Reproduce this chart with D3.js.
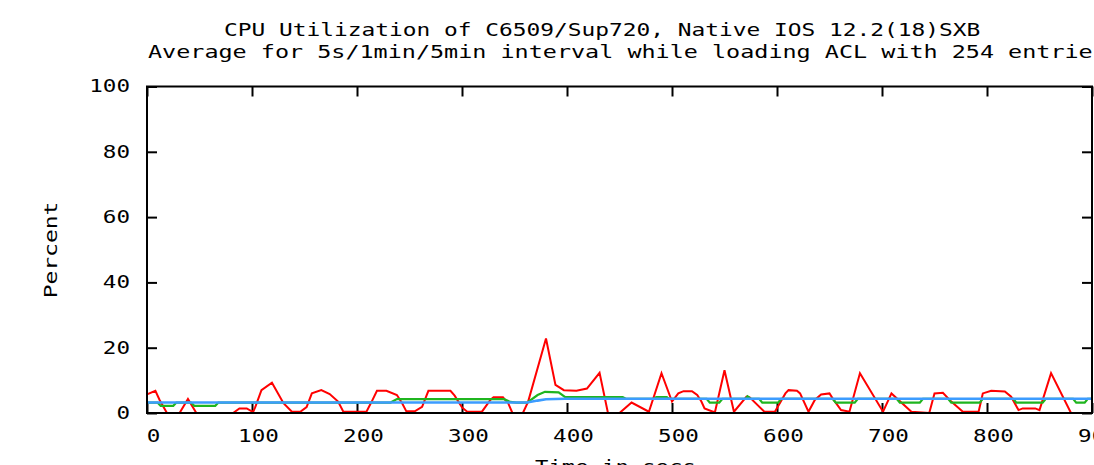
<!DOCTYPE html>
<html><head><meta charset="utf-8">
<script src="https://cdn.jsdelivr.net/npm/d3@7"></script>
<style>html,body{margin:0;padding:0;background:#fff;overflow:hidden}</style>
</head><body>
<svg id="chart" width="1094" height="465"></svg>
<script>
// ---- data ----
const titleLine1 = "CPU Utilization of C6509/Sup720, Native IOS 12.2(18)SXB";
const titleLine2 = "Average for 5s/1min/5min interval while loading ACL with 254 entries";
const xLabel = "Time in secs";
const yLabel = "Percent";
const xTicks = [0, 100, 200, 300, 400, 500, 600, 700, 800, 900];
const yTicks = [0, 20, 40, 60, 80, 100];
const seriesNames = ["5s", "1min", "5min"];

// 5 second average [time, percent]
const cpu5s = [[0,5.7],[8,6.8],[12,4],[19,0],[31,0],[39,4.3],[47,0],[82,0],[88,1.4],[95,1.4],[101,0.3],[103,1.7],[109,7],[119,9.3],[130,3],[138,0.4],[146,0.4],[152,1.8],[157,6],[166,7],[174,5.8],[182,3.5],[187,0.4],[209,0.4],[214,3.5],[219,6.8],[228,6.8],[238,5.5],[243,3],[247,0.5],[255,0.5],[262,1.9],[268,6.8],[289,6.8],[293,5.3],[300,1.7],[305,0.4],[319,0.4],[327,4],[330,4.8],[339,4.8],[344,3],[348,0],[358,0],[363,3.5],[380,22.8],[389,8.6],[397,7],[409,6.8],[419,7.5],[431,12.3],[439,0],[450,0],[461.5,3.2],[478,0.4],[490,12.2],[500,3.5],[506,6],[511,6.7],[519,6.7],[524,5.5],[528,3.5],[531,1.4],[539,0.4],[541,0.4],[550,13.1],[559,0.4],[571,5],[574,4.8],[588,0.4],[598,0.4],[608,6],[611,7],[619,6.8],[622,6],[630,0.4],[636,4],[642,5.7],[650,6],[654,4],[661,0.9],[669,0.4],[679,12.2],[701,0.4],[709,6],[728,0.4],[745,0],[750,6],[758,6.2],[766,3.5],[777,0.4],[792,0.4],[796,6],[804,6.8],[817,6.6],[823,5],[830,0.9],[834,1.4],[846,1.4],[850,0.9],[861,12.2],[880,0],[900,0]];

// 1 minute average
const cpu1min = [[0,3.2],[10,3.2],[13,2.2],[25,2.2],[28,3.2],[42,3.2],[45,2.2],[65,2.2],[68,3.2],[232,3.2],[238,4.25],[340,4.25],[346,3.4],[352,3.2],[362,3.2],[372,5.5],[379,6.5],[392,6.3],[398,4.9],[453,4.9],[456,4.35],[483,4.35],[485,4.9],[495,4.9],[497,4.35],[533,4.35],[536,3.15],[545,3.15],[548,4.35],[570,4.35],[572,5.1],[575,4.35],[583,4.35],[586,3.15],[601,3.15],[604,4.35],[653,4.35],[656,3.15],[674,3.15],[677,4.35],[714,4.35],[717,3.15],[736,3.15],[739,4.35],[763,4.35],[766,3.15],[793,3.15],[796,4.35],[825,4.35],[828,3.15],[853,3.15],[856,4.35],[882,4.35],[885,3.15],[893,3.15],[896,4.35],[900,4.35]];

// 5 minute average
const cpu5min = [[0,3.2],[362,3.2],[372,3.8],[380,4.2],[398,4.35],[900,4.35]];

// ---- drawing ----
const CW = 13.6;        // character cell width of the stretched mono font
const FONT = "DejaVu Sans Mono";
const svg = d3.select("#chart");
const P = {left: 147, right: 1092, top: 86.5, bottom: 413};
const x = d3.scaleLinear().domain([0, 900]).range([P.left, P.right]);
const y = d3.scaleLinear().domain([0, 100]).range([P.bottom, P.top]);

function styleText(sel, cw) {
  sel.attr("font-family", FONT).attr("font-size", 17).attr("fill", "#000")
     .attr("textLength", function(){ return this.textContent.length * cw; })
     .attr("lengthAdjust", "spacingAndGlyphs");
}

// Axes (inward ticks, gnuplot style)
const gx = svg.append("g").attr("transform", `translate(0,${P.bottom})`)
  .call(d3.axisBottom(x).tickValues(xTicks).tickSizeInner(-10).tickSizeOuter(0).tickPadding(17).tickFormat(d3.format("d")));
gx.selectAll(".tick text").attr("dx", 6).call(styleText, CW);

svg.append("g").attr("transform", `translate(0,${P.top})`)
  .call(d3.axisTop(x).tickValues(xTicks).tickSizeInner(-10).tickSizeOuter(0).tickFormat(""));

const gy = svg.append("g").attr("transform", `translate(${P.left},0)`)
  .call(d3.axisLeft(y).tickValues(yTicks).tickSizeInner(-10).tickSizeOuter(0).tickPadding(17).tickFormat(d3.format("d")));
gy.selectAll(".tick text").call(styleText, CW);

svg.append("g").attr("transform", `translate(${P.right},0)`)
  .call(d3.axisRight(y).tickValues(yTicks).tickSizeInner(-10).tickSizeOuter(0).tickFormat(""));

svg.selectAll(".domain").remove();
svg.selectAll(".tick line").attr("stroke", "#000").attr("stroke-width", 2);

// Lines
const line = d3.line().x(d => x(d[0])).y(d => y(d[1]));
const series = [
  {name: seriesNames[0], data: cpu5s, color: "#ff0000", w: 2},
  {name: seriesNames[1], data: cpu1min, color: "#1fb51f", w: 2.2},
  {name: seriesNames[2], data: cpu5min, color: "#3c9cff", w: 2.6}
];
svg.append("g").selectAll("path").data(series).join("path")
  .attr("d", d => line(d.data)).attr("fill", "none")
  .attr("stroke", d => d.color).attr("stroke-width", d => d.w)
  .attr("stroke-linejoin", "miter");

// Border
svg.append("rect").attr("x", P.left).attr("y", P.top)
  .attr("width", P.right - P.left).attr("height", P.bottom - P.top)
  .attr("fill", "none").attr("stroke", "#000").attr("stroke-width", 2);

// Titles & labels
svg.append("text").attr("x", 224).attr("y", 36).text(titleLine1).call(styleText, 13.75);
svg.append("text").attr("x", 148).attr("y", 57.5).text(titleLine2).call(styleText, 14.1);
svg.append("text").attr("x", 535).attr("y", 472.5).text(xLabel).call(styleText, 13.4);
svg.append("text").attr("transform", "translate(56.5,250) rotate(-90)")
  .attr("text-anchor", "middle").text(yLabel).call(styleText, 13.8);
</script>
</body></html>
